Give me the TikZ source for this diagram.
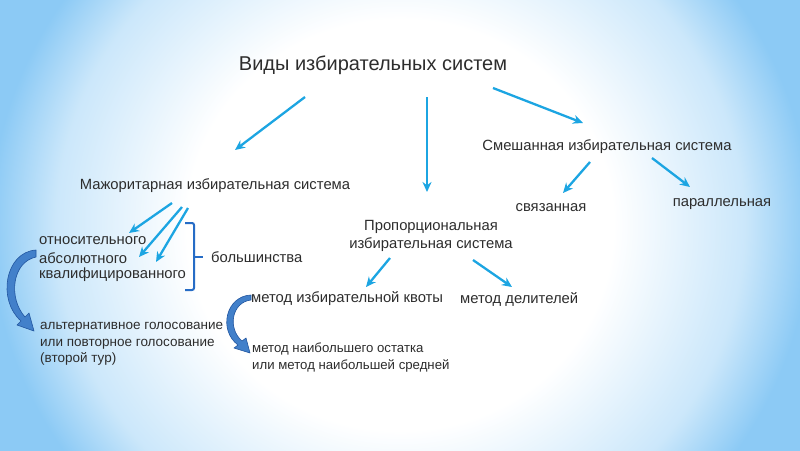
\documentclass[tikz,border=0pt]{standalone}
\usepackage{fontspec}
\setmainfont{Liberation Sans}
\usetikzlibrary{arrows.meta, positioning, calc}
\definecolor{cArrow}{RGB}{28,165,226}
\definecolor{cBend}{RGB}{66,128,202}
\definecolor{cBendEdge}{RGB}{34,86,160}
\definecolor{cBrace}{RGB}{38,108,198}
\definecolor{cText}{RGB}{45,45,45}
\definecolor{cBg}{RGB}{140,202,245}
\pgfdeclareradialshading{bgglow}{\pgfpoint{0bp}{0bp}}{color(0bp)=(white); color(13bp)=(white); color(21bp)=(cBg!45!white); color(25bp)=(cBg); color(50bp)=(cBg)}
\tikzset{
	lbl/.style   ={inner sep=0pt, text=cText, font=\fontsize{14.8}{17.3}\selectfont},
	ttl/.style   ={inner sep=0pt, text=cText, font=\fontsize{20}{23}\selectfont},
	arr/.style   ={-{Stealth[length=10pt, width=9pt]}, line width=2.3pt, cArrow},
	% curved block arrows and the bracket
	bendarr/.style={fill=cBend, draw=cBendEdge, line width=0.6pt, line join=round},
	brk/.style   ={cBrace, line width=2pt, rounded corners=2pt},
}
\begin{document}
\begin{tikzpicture}[x=1pt, y=-1pt]
	\useasboundingbox (0,0) rectangle (800,450);
	% background
	\begin{scope}
		\clip (0,0) rectangle (800,450);
		\shade[shading=bgglow] (-10,-170) rectangle (810,620);
	\end{scope}
	% texts
	\node[ttl] (types) at (373,65) {Виды избирательных систем};
	\node[lbl] (major) at (215,186) {Мажоритарная избирательная система};
	\node[lbl, align=center] (prop) at (431,236) {Пропорциональная\\избирательная система};
	\node[lbl] (mixed) at (607,147) {Смешанная избирательная система};
	\node[lbl] (linked) at (551,208) {связанная};
	\node[lbl] (parallel) at (722,204) {параллельная};
	\node[lbl, anchor=west] (rel) at (39,241) {относительного};
	\node[lbl, anchor=west] (abs) at (39,258) {абсолютного};
	\node[lbl, anchor=west] (qual) at (39,275) {квалифицированного};
	\node[lbl, anchor=west] (most) at (211,257) {большинства};
	\node[lbl, anchor=west] (quota) at (251,299) {метод избирательной квоты};
	\node[lbl, anchor=west] (divisors) at (460,299) {метод делителей};
	\node[lbl, anchor=west, align=left, font=\fontsize{13.2}{17}\selectfont] (remainder) at (252,358) {метод наибольшего остатка\\или метод наибольшей средней};
	\node[lbl, anchor=west, align=left, font=\fontsize{13.5}{16.3}\selectfont] (rounds) at (40,344) {альтернативное голосование\\или повторное голосование\\(второй тур)};
	% arrows
	\draw[arr] ($(types)+(-68,32)$) -- ($(major)+(20,-36)$);
	\draw[arr] ($(types)+(54,32)$) -- ($(prop)+(-4,-44)$);
	\draw[arr] ($(types)+(120,23)$) -- ($(mixed)+(-24,-24)$);
	\draw[arr] ($(mixed)+(-17,15)$) -- ($(linked)+(12,-15)$);
	\draw[arr] ($(mixed)+(45,11)$) -- ($(parallel)+(-32,-17)$);
	\draw[arr] ($(major)+(-43,17)$) -- ($(rel.west)+(90,-8)$);
	\draw[arr] ($(major)+(-33,21)$) -- ($(abs.west)+(100,-1)$);
	\draw[arr] ($(major)+(-27,22)$) -- ($(qual.west)+(117,-13)$);
	\draw[arr] ($(prop)+(-41,22)$) -- ($(quota.west)+(115,-12)$);
	\draw[arr] ($(prop)+(42,24)$) -- ($(divisors.west)+(52,-12)$);
	% bracket
	\draw[brk] (185,223) -- (194,223) -- (194,290) -- (185,290);
	\draw[brk] (194,257) -- (203,257);
	% curved block arrows
	\draw[bendarr] (36,250) .. controls (5,252) and (-3,300) .. (21,321) -- (17,325) -- (34,331) -- (29,313) -- (25,317) .. controls (8,298) and (12,262) .. (36,257) -- cycle;
	\draw[bendarr] (251,295) .. controls (226,296) and (218,330) .. (238,345) -- (234,348) -- (250,353) -- (246,338) -- (242,341) .. controls (227,328) and (232,302) .. (251,300) -- cycle;
\end{tikzpicture}
\end{document}
